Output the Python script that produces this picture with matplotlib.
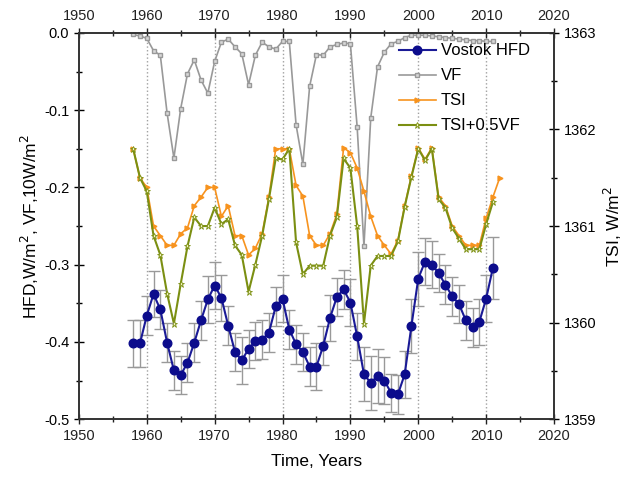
import matplotlib
matplotlib.use('Agg')
import matplotlib.pyplot as plt
from matplotlib.ticker import MultipleLocator

plt.rcParams['font.family'] = ['Liberation Sans', 'DejaVu Sans']
plt.rcParams['axes.unicode_minus'] = False

# yearly values
years_hfd = list(range(1958, 2012))
hfd = [-0.402, -0.402, -0.366, -0.338, -0.358, -0.401, -0.437, -0.443, -0.427, -0.401,
       -0.372, -0.345, -0.327, -0.343, -0.379, -0.413, -0.424, -0.409, -0.399, -0.397,
       -0.388, -0.354, -0.344, -0.384, -0.403, -0.413, -0.432, -0.432, -0.405, -0.369,
       -0.342, -0.332, -0.349, -0.393, -0.442, -0.453, -0.444, -0.450, -0.466, -0.468,
       -0.442, -0.379, -0.318, -0.296, -0.300, -0.311, -0.326, -0.341, -0.351, -0.372,
       -0.381, -0.374, -0.344, -0.304]
hfd_err = [0.03, 0.03, 0.025, 0.03, 0.025, 0.025, 0.025, 0.025, 0.025, 0.025,
           0.025, 0.03, 0.03, 0.03, 0.025, 0.025, 0.03, 0.025, 0.025, 0.025,
           0.025, 0.025, 0.03, 0.025, 0.025, 0.025, 0.025, 0.03, 0.025, 0.03,
           0.025, 0.025, 0.03, 0.03, 0.035, 0.035, 0.035, 0.03, 0.025, 0.025,
           0.03, 0.035, 0.035, 0.03, 0.03, 0.025, 0.025, 0.025, 0.025, 0.025,
           0.025, 0.03, 0.03, 0.04]

years_vf = list(range(1958, 2012))
vf = [-0.002, -0.004, -0.007, -0.023, -0.029, -0.104, -0.162, -0.098, -0.053, -0.035,
      -0.061, -0.078, -0.037, -0.012, -0.008, -0.018, -0.027, -0.067, -0.029, -0.012,
      -0.018, -0.021, -0.011, -0.011, -0.119, -0.170, -0.069, -0.028, -0.029, -0.018,
      -0.015, -0.013, -0.014, -0.122, -0.276, -0.110, -0.044, -0.025, -0.014, -0.011,
      -0.006, -0.003, -0.003, -0.003, -0.004, -0.005, -0.006, -0.007, -0.008, -0.009,
      -0.010, -0.010, -0.011, -0.011]

years_tsi = list(range(1958, 2013))
tsi = [1361.80, 1361.50, 1361.40, 1361.00, 1360.90, 1360.80, 1360.80, 1360.92, 1360.98, 1361.21,
       1361.30, 1361.40, 1361.40, 1361.10, 1361.21, 1360.90, 1360.90, 1360.70, 1360.77, 1360.92,
       1361.30, 1361.80, 1361.80, 1361.80, 1361.42, 1361.31, 1360.90, 1360.80, 1360.80, 1360.92,
       1361.12, 1361.81, 1361.76, 1361.60, 1361.36, 1361.10, 1360.90, 1360.80, 1360.71, 1360.85,
       1361.21, 1361.52, 1361.81, 1361.69, 1361.81, 1361.30, 1361.21, 1361.00, 1360.90, 1360.80,
       1360.80, 1360.80, 1361.08, 1361.30, 1361.50]

years_tsivf = list(range(1958, 2012))
tsi_vf = [1361.80, 1361.50, 1361.36, 1360.90, 1360.70, 1360.30, 1359.99, 1360.40, 1360.79, 1361.09,
          1361.00, 1361.00, 1361.19, 1361.02, 1361.07, 1360.80, 1360.70, 1360.32, 1360.60, 1360.90,
          1361.28, 1361.70, 1361.69, 1361.80, 1360.83, 1360.50, 1360.59, 1360.59, 1360.59, 1360.90,
          1361.09, 1361.70, 1361.60, 1361.00, 1359.99, 1360.59, 1360.69, 1360.69, 1360.69, 1360.84,
          1361.20, 1361.51, 1361.80, 1361.68, 1361.80, 1361.28, 1361.19, 1360.98, 1360.87, 1360.76,
          1360.76, 1360.76, 1361.02, 1361.25]

decades = [1960, 1970, 1980, 1990, 2000, 2010]

fig = plt.figure(figsize=(6.26, 4.84), dpi=100)
ax = fig.add_axes([0.126, 0.134, 0.759, 0.798])
ax2 = ax.twinx()

for d in decades:
    ax.axvline(d, color='#a0a0a0', linestyle=':', linewidth=1, zorder=0)

l_vf, = ax.plot(years_vf, vf, color='#999999', linewidth=1.2, marker='s', markersize=3,
                markerfacecolor='#d8d8d8', markeredgecolor='#999999', label='VF', zorder=2)

l_tsi, = ax2.plot(years_tsi, tsi, color='#f7931e', linewidth=1.2, marker='>', markersize=3.5,
                  markerfacecolor='#f7931e', markeredgecolor='#f7931e', label='TSI', zorder=2)
l_tv, = ax2.plot(years_tsivf, tsi_vf, color='#7b8f12', linewidth=1.5, marker='*', markersize=5,
                 markerfacecolor='#f4f4c0', markeredgecolor='#7b8f12', markeredgewidth=0.6,
                 label='TSI+0.5VF', zorder=3)

# HFD drawn on the right axis via the linear map between the two scales
hfd_r = [1359 + (v + 0.5) * 8 for v in hfd]
ax2.errorbar(years_hfd, hfd_r, yerr=[e * 8 for e in hfd_err],
             fmt='none', ecolor='#999999', elinewidth=1, capsize=4, capthick=1, zorder=4)
l_hfd, = ax2.plot(years_hfd, hfd_r, color='#1a1a96', linewidth=1.5,
                  marker='o', markersize=6.2, markerfacecolor='#0c0c8c', markeredgecolor='#0c0c8c',
                  label='Vostok HFD', zorder=5)

ax.set_xlim(1950, 2020)
ax.set_ylim(-0.5, 0.0)
ax2.set_ylim(1359, 1363)

ax.xaxis.set_major_locator(MultipleLocator(10))
ax.xaxis.set_minor_locator(MultipleLocator(5))
ax.yaxis.set_major_locator(MultipleLocator(0.1))
ax.yaxis.set_minor_locator(MultipleLocator(0.05))
ax2.yaxis.set_major_locator(MultipleLocator(1))
ax2.yaxis.set_minor_locator(MultipleLocator(0.5))
ax.yaxis.set_major_formatter(plt.FormatStrFormatter('%.1f'))

ax.tick_params(axis='x', which='both', direction='inout', top=True, labeltop=True,
               labelsize=10.5, colors='#222222')
ax.tick_params(axis='x', which='major', length=7, width=1)
ax.tick_params(axis='x', which='minor', length=4, width=1)
ax.tick_params(axis='y', which='major', direction='inout', length=7, width=1, labelsize=10.5)
ax.tick_params(axis='y', which='minor', direction='inout', length=4, width=1)
ax2.tick_params(axis='y', which='major', direction='inout', length=7, width=1, labelsize=10.5)
ax2.tick_params(axis='y', which='minor', direction='inout', length=4, width=1)

for a in (ax, ax2):
    for s in a.spines.values():
        s.set_linewidth(1.2)
        s.set_color('#333333')

ax.set_xlabel('Time, Years', fontsize=12.5, labelpad=8)
ax.set_ylabel('HFD,W/m$^2$, VF,10W/m$^2$', fontsize=12.5, labelpad=2)
ax2.set_ylabel('TSI, W/m$^2$', fontsize=12.5, labelpad=4)

ax2.legend([l_hfd, l_vf, l_tsi, l_tv], ['Vostok HFD', 'VF', 'TSI', 'TSI+0.5VF'],
           loc='upper left', bbox_to_anchor=(0.66, 0.99), frameon=False, fontsize=12,
           handlelength=2.2, handletextpad=0.3, labelspacing=0.6, borderaxespad=0)

fig.savefig('out.png', dpi=100)
